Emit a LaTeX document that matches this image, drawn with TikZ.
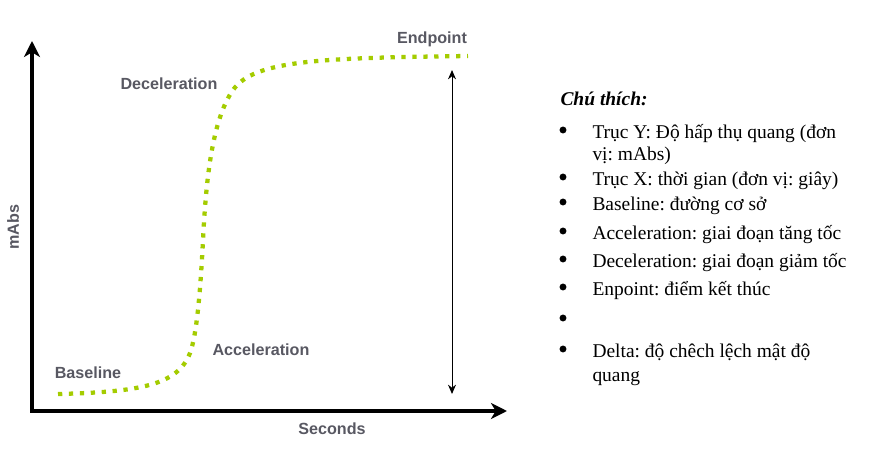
\documentclass[tikz,border=0pt]{standalone}
\usepackage{fontspec}
\setmainfont{Liberation Serif}
\newfontfamily\chartfont{Liberation Sans}
\usetikzlibrary{arrows.meta}

\definecolor{curvegreen}{RGB}{164,204,0}
\definecolor{labelgray}{RGB}{88,88,98}

\tikzset{every picture/.style={line width=0.75pt}}
\tikzset{
  axisline/.style={line width=3.2pt, line join=miter, {Stealth[length=12pt,width=12pt,inset=3.5pt]}-{Stealth[length=12pt,width=12pt,inset=3.5pt]}},
  dotcurve/.style={curvegreen, line width=3.2pt, dash pattern=on 3.2pt off 5pt},
  deltaline/.style={line width=0.75pt, {Stealth[length=7pt,width=6pt]}-{Stealth[length=7pt,width=6pt]}},
  curvelabel/.style={inner sep=0.75pt, text=labelgray, font=\chartfont\bfseries\fontsize{12.1}{14}\selectfont},
  legendtext/.style={anchor=base west, inner sep=0pt, font=\fontsize{14.6}{17}\selectfont},
  legendbullet/.style={circle, fill=black, inner sep=0pt, minimum size=5.2pt}
}

\begin{document}
\frenchspacing
\begin{tikzpicture}[x=0.75pt,y=0.75pt,yscale=-1,xscale=1]
			\useasboundingbox (0,0) rectangle (889,460);

			% Axes
			\coordinate (origin) at (32,411);
			\coordinate (ytip) at (32,41);
			\coordinate (xtip) at (507,411);
			\draw [axisline] (ytip) -- (origin) -- (xtip);

			%Shape: Curve [id:sigmoid]
			\draw [dotcurve] (58,394) .. controls (140,392) and (178,385) .. (190,353) .. controls (196,337) and (200,300) .. (203,240) .. controls (206,180) and (212,120) .. (233,90) .. controls (254,60) and (320,58) .. (468,56) ;

			% Delta arrow
			\coordinate (deltatop) at (452,70);
			\coordinate (deltabot) at (452,394);
			\draw [deltaline] (deltatop) -- (deltabot);

			% Text Node
			\node [curvelabel] (endpoint) at (432,39) {Endpoint};
			% Text Node
			\node [curvelabel] (decel) at (169,84) {Deceleration};
			% Text Node
			\node [curvelabel] (accel) at (261,350) {Acceleration};
			% Text Node
			\node [curvelabel] (baseline) at (88,373) {Baseline};
			% Text Node
			\node [curvelabel] (seconds) at (332,429) {Seconds};
			% Text Node
			\node [curvelabel, rotate=90] (mabs) at (13,227) {mAbs};

			% Legend
			\node [legendtext, font=\fontsize{14.6}{17}\selectfont\bfseries\itshape] (legtitle) at (560,106) {Chú thích:};
			\node [legendbullet] (b1) at (563,130) {};
			\node [legendtext] (l1) at (592,138) {Trục Y: Độ hấp thụ quang (đơn};
			\node [legendtext] (l1b) at (592,160) {vị: mAbs)};
			\node [legendbullet] (b2) at (563,177) {};
			\node [legendtext] (l2) at (592,185) {Trục X: thời gian (đơn vị: giây)};
			\node [legendbullet] (b3) at (563,202) {};
			\node [legendtext] (l3) at (592,210) {Baseline: đường cơ sở};
			\node [legendbullet] (b4) at (563,231) {};
			\node [legendtext] (l4) at (592,239) {Acceleration: giai đoạn tăng tốc};
			\node [legendbullet] (b5) at (563,259) {};
			\node [legendtext] (l5) at (592,267) {Deceleration: giai đoạn giảm tốc};
			\node [legendbullet] (b6) at (563,287) {};
			\node [legendtext] (l6) at (592,295) {Enpoint: điểm kết thúc};
			\node [legendbullet] (b7) at (563,318) {};
			\node [legendbullet] (b8) at (563,349) {};
			\node [legendtext] (l8) at (592,357) {Delta: độ chêch lệch mật độ};
			\node [legendtext] (l8b) at (592,381) {quang};

\end{tikzpicture}
\end{document}
